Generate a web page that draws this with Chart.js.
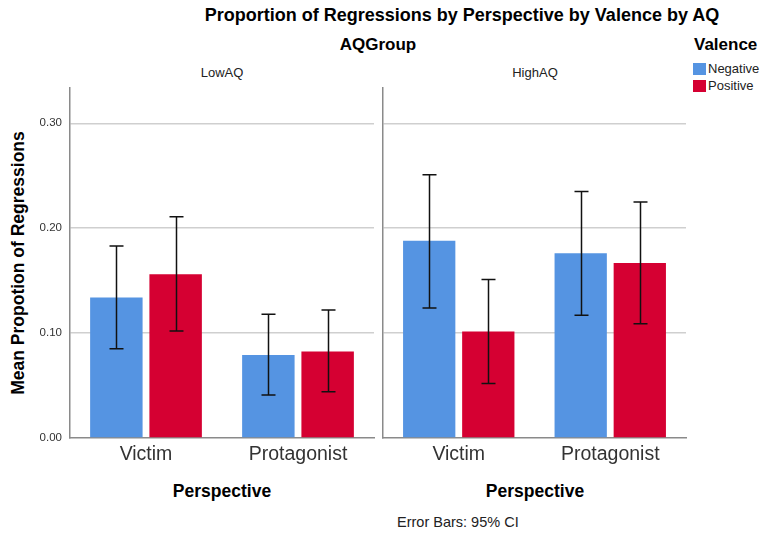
<!DOCTYPE html>
<html>
<head>
<meta charset="utf-8">
<script src="https://cdn.jsdelivr.net/npm/chart.js@4"></script>
<style>
  html, body { margin:0; padding:0; background:#fff; }
  body { width:761px; height:537px; position:relative; overflow:hidden; font-family:"Liberation Sans", Arial, sans-serif; color:#000; }
  .abs { position:absolute; white-space:nowrap; }
  canvas { position:absolute; }
  .b { font-weight:bold; }
</style>
</head>
<body>
<div class="abs b" id="title" style="left:0; width:924px; text-align:center; top:5px; font-size:18px;">Proportion of Regressions by Perspective by Valence by AQ</div>
<div class="abs b" style="left:278px; width:200px; text-align:center; top:35px; font-size:17px;">AQGroup</div>
<div class="abs b" style="left:694px; top:35px; font-size:17px;">Valence</div>
<div class="abs" style="left:693px; top:63px; width:13px; height:12px; background:#5594e2;"></div>
<div class="abs" style="left:708px; top:61px; font-size:13px; color:#222;">Negative</div>
<div class="abs" style="left:693px; top:80px; width:13px; height:12px; background:#d50032;"></div>
<div class="abs" style="left:708px; top:78px; font-size:13px; color:#222;">Positive</div>
<div class="abs" style="left:122px; width:200px; text-align:center; top:65px; font-size:13px; color:#222;">LowAQ</div>
<div class="abs" style="left:435px; width:200px; text-align:center; top:65px; font-size:13px; color:#222;">HighAQ</div>
<div class="abs b" style="left:18px; top:263px; font-size:17.5px; transform:translate(-50%,-50%) rotate(-90deg);">Mean Propotion of Regressions</div>
<div class="abs b" style="left:122px; width:200px; text-align:center; top:481px; font-size:17.5px;">Perspective</div>
<div class="abs b" style="left:435px; width:200px; text-align:center; top:481px; font-size:17.5px;">Perspective</div>
<div class="abs" style="left:397px; top:514px; font-size:14.5px; color:#222;">Error Bars: 95% CI</div>

<canvas id="c1" width="380" height="537" style="left:0; top:0; width:380px; height:537px;"></canvas>
<canvas id="c2" width="381" height="537" style="left:380px; top:0; width:381px; height:537px;"></canvas>

<script>
// ---- Data ----
const categories = ["Victim", "Protagonist"];
const seriesNames = ["Negative", "Positive"];
const yTicks = [0, 0.1, 0.2, 0.3];

// LowAQ panel
const lowNegative = [0.134, 0.079];
const lowPositive = [0.156, 0.0825];
const lowNegLower = [0.085, 0.041];
const lowNegUpper = [0.183, 0.118];
const lowPosLower = [0.102, 0.044];
const lowPosUpper = [0.211, 0.122];

// HighAQ panel
const highNegative = [0.188, 0.176];
const highPositive = [0.1015, 0.1667];
const highNegLower = [0.124, 0.117];
const highNegUpper = [0.251, 0.235];
const highPosLower = [0.052, 0.109];
const highPosUpper = [0.151, 0.225];

const colors = ["#5594e2", "#d50032"];

const errorBarPlugin = {
  id: 'errorBars',
  afterDatasetsDraw(chart) {
    const ctx = chart.ctx;
    const y = chart.scales.y;
    ctx.save();
    ctx.strokeStyle = '#111';
    ctx.lineWidth = 1.5;
    chart.data.datasets.forEach((ds, di) => {
      const meta = chart.getDatasetMeta(di);
      meta.data.forEach((bar, i) => {
        const lo = ds.errLower[i], hi = ds.errUpper[i];
        const x = Math.round(bar.x) + 0.5;
        const y1 = y.getPixelForValue(hi), y2 = y.getPixelForValue(lo);
        const cap = 7;
        ctx.beginPath();
        ctx.moveTo(x, y1); ctx.lineTo(x, y2);
        ctx.moveTo(x - cap, y1); ctx.lineTo(x + cap, y1);
        ctx.moveTo(x - cap, y2); ctx.lineTo(x + cap, y2);
        ctx.stroke();
      });
    });
    ctx.restore();
  }
};

function makeChart(id, neg, pos, negLo, negHi, posLo, posHi, showYTicks, yWidth, padRight) {
  return new Chart(document.getElementById(id), {
    type: 'bar',
    data: {
      labels: categories,
      datasets: [
        { label: seriesNames[0], data: neg, backgroundColor: colors[0], borderWidth: 0, errLower: negLo, errUpper: negHi },
        { label: seriesNames[1], data: pos, backgroundColor: colors[1], borderWidth: 0, errLower: posLo, errUpper: posHi }
      ]
    },
    options: {
      responsive: false,
      animation: false,
      events: [],
      layout: { padding: { left: 0, right: padRight, top: 88, bottom: 59 } },
      datasets: { bar: { categoryPercentage: 0.78, barPercentage: 0.885 } },
      plugins: { legend: { display: false }, tooltip: { enabled: false }, title: { display: false } },
      scales: {
        x: {
          grid: { display: false, drawTicks: false },
          border: { display: true, color: '#8a8a8a', width: 1.5 },
          ticks: { font: { family: 'Liberation Sans', size: 19.5 }, color: '#333', padding: 5 },
          afterFit(s) { s.height = 40; }
        },
        y: {
          min: 0, max: 0.3336,
          afterBuildTicks(s) { s.ticks = yTicks.map(v => ({ value: v })); },
          grid: {
            drawTicks: false,
            color: ctx => (ctx.tick && ctx.tick.value === 0) ? 'rgba(0,0,0,0)' : '#cfcfcf',
            lineWidth: 1.5
          },
          border: { display: true, color: '#8a8a8a', width: 1.5 },
          ticks: {
            display: showYTicks,
            font: { family: 'Liberation Sans', size: 11.5 },
            color: '#333',
            padding: 8,
            callback: v => Number(v).toFixed(2)
          },
          afterFit(s) { s.width = yWidth; }
        }
      }
    },
    plugins: [errorBarPlugin]
  });
}

makeChart('c1', lowNegative, lowPositive, lowNegLower, lowNegUpper, lowPosLower, lowPosUpper, true, 70, 6);
makeChart('c2', highNegative, highPositive, highNegLower, highNegUpper, highPosLower, highPosUpper, false, 3, 75);
</script>
</body>
</html>
